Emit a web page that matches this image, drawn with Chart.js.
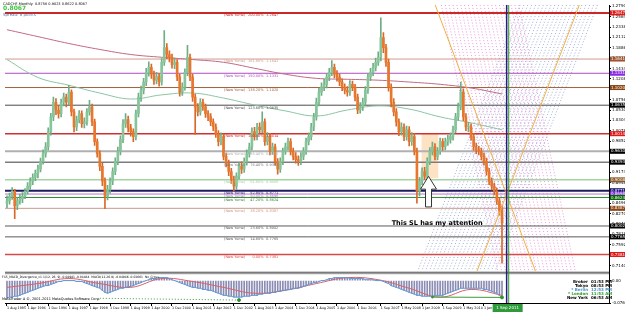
<!DOCTYPE html>
<html>
<head>
<meta charset="utf-8">
<script src="https://cdn.jsdelivr.net/npm/chart.js@4.4.1/dist/chart.umd.min.js"></script>
<style>
html, body { margin: 0; padding: 0; background: #fff; }
canvas { display: block; }
</style>
</head>
<body>
<canvas id="myChart" width="625" height="315"></canvas>
<script>
// CADCHF monthly, one candle per month starting Aug 1995 (index 0)
const opens = [0.850,0.855,0.865,0.876,0.844,0.855,0.859,0.865,0.876,0.887,
0.898,0.906,0.915,0.924,0.941,0.958,0.973,1.006,1.038,1.070,
1.053,1.045,1.070,1.081,1.070,1.092,1.049,1.016,1.032,1.045,
1.023,1.027,1.049,1.060,1.027,0.984,0.958,0.930,0.898,0.865,
0.880,0.898,0.919,0.941,0.963,0.989,1.023,1.032,1.014,1.006,
0.995,1.045,1.081,1.096,1.114,1.135,1.146,1.131,1.118,1.126,
1.114,1.157,1.189,1.174,1.168,1.152,1.157,1.125,1.092,1.103,
1.135,1.168,1.125,1.081,1.060,1.049,1.070,1.060,1.045,1.038,
1.027,1.016,1.001,0.984,0.995,0.952,0.937,0.919,0.902,0.887,
0.909,0.930,0.924,0.941,0.958,0.973,1.006,0.995,1.016,1.010,
1.027,0.984,0.995,0.963,0.973,0.941,0.924,0.941,0.963,0.973,
0.984,0.963,0.952,0.945,0.941,0.952,0.963,0.984,0.995,1.016,
1.038,1.070,1.092,1.103,1.109,1.125,1.135,1.146,1.131,1.125,
1.114,1.103,1.096,1.092,1.109,1.103,1.081,1.053,1.060,1.070,
1.096,1.125,1.135,1.146,1.157,1.168,1.211,1.189,1.157,1.103,
1.070,1.049,1.027,1.006,1.016,0.995,1.010,0.984,0.995,0.963,
0.876,0.898,0.919,0.909,0.941,0.963,0.973,0.952,0.963,0.984,
0.973,0.984,0.989,0.995,1.010,1.038,1.060,1.092,1.038,1.016,
1.016,0.995,0.973,0.966,0.963,0.952,0.941,0.919,0.898,0.887,
0.876,0.855,0.833];
const highs = [0.866,0.872,0.884,0.880,0.862,0.870,0.873,0.882,0.895,0.905,
0.914,0.922,0.933,0.948,0.966,0.982,1.014,1.046,1.081,1.078,
1.062,1.077,1.090,1.088,1.107,1.097,1.055,1.040,1.052,1.051,
1.036,1.056,1.074,1.066,1.033,0.990,0.964,0.937,0.905,0.889,
0.905,0.927,0.949,0.972,0.997,1.032,1.045,1.040,1.022,1.012,
1.053,1.090,1.105,1.122,1.144,1.158,1.153,1.138,1.135,1.133,
1.165,1.226,1.198,1.182,1.175,1.166,1.163,1.131,1.112,1.143,
1.194,1.175,1.131,1.088,1.067,1.078,1.077,1.066,1.052,1.045,
1.034,1.023,1.008,1.003,1.001,0.959,0.944,0.926,0.909,0.916,
0.938,0.940,0.949,0.966,0.981,1.014,1.015,1.024,1.025,1.049,
1.034,1.004,1.002,0.981,0.979,0.947,0.949,0.970,0.981,0.992,
0.991,0.970,0.960,0.953,0.960,0.971,0.992,1.003,1.024,1.046,
1.079,1.101,1.112,1.120,1.133,1.144,1.161,1.153,1.139,1.132,
1.121,1.110,1.104,1.117,1.116,1.109,1.088,1.069,1.079,1.104,
1.133,1.144,1.155,1.166,1.180,1.254,1.222,1.196,1.164,1.110,
1.078,1.056,1.034,1.025,1.023,1.018,1.017,1.004,1.002,0.970,
0.906,0.927,0.928,0.949,0.971,0.983,0.980,0.971,0.992,0.991,
0.992,0.998,1.003,1.018,1.046,1.068,1.114,1.099,1.045,1.026,
1.023,1.002,0.981,0.974,0.970,0.959,0.948,0.926,0.905,0.894,
0.883,0.862,0.844];
const lows = [0.840,0.848,0.858,0.816,0.836,0.848,0.851,0.860,0.870,0.880,
0.890,0.899,0.905,0.918,0.935,0.950,0.966,0.998,1.030,1.043,
1.035,1.038,1.062,1.060,1.064,1.040,1.005,1.008,1.025,1.015,
1.014,1.020,1.042,1.019,0.976,0.950,0.921,0.888,0.838,0.857,
0.872,0.890,0.912,0.934,0.955,0.982,1.015,1.005,0.996,0.984,
0.988,1.038,1.072,1.088,1.106,1.127,1.122,1.109,1.110,1.105,
1.107,1.150,1.165,1.158,1.144,1.143,1.117,1.083,1.085,1.096,
1.128,1.117,1.072,1.000,1.040,1.042,1.052,1.037,1.030,1.019,
1.008,0.993,0.975,0.977,0.944,0.929,0.910,0.893,0.876,0.880,
0.902,0.915,0.917,0.933,0.950,0.966,0.987,0.988,1.002,1.003,
0.976,0.977,0.955,0.956,0.933,0.913,0.917,0.934,0.956,0.966,
0.955,0.944,0.937,0.932,0.934,0.945,0.956,0.977,0.988,1.008,
1.031,1.062,1.085,1.095,1.101,1.117,1.128,1.123,1.116,1.106,
1.095,1.088,1.083,1.085,1.095,1.073,1.045,1.046,1.052,1.063,
1.089,1.117,1.128,1.138,1.150,1.160,1.178,1.148,1.094,1.060,
1.040,1.018,0.997,0.998,0.986,0.987,0.975,0.976,0.955,0.850,
0.866,0.890,0.901,0.902,0.934,0.955,0.944,0.945,0.956,0.965,
0.966,0.976,0.981,0.987,1.003,1.031,1.053,1.030,1.008,1.006,
0.987,0.965,0.958,0.955,0.944,0.933,0.911,0.890,0.879,0.868,
0.847,0.824,0.719];
const closes = [0.855,0.865,0.876,0.844,0.855,0.859,0.865,0.876,0.887,0.898,
0.906,0.915,0.924,0.941,0.958,0.973,1.006,1.038,1.070,1.053,
1.045,1.070,1.081,1.070,1.092,1.049,1.016,1.032,1.045,1.023,
1.027,1.049,1.060,1.027,0.984,0.958,0.930,0.898,0.865,0.880,
0.898,0.919,0.941,0.963,0.989,1.023,1.032,1.014,1.006,0.995,
1.045,1.081,1.096,1.114,1.135,1.146,1.131,1.118,1.126,1.114,
1.157,1.189,1.174,1.168,1.152,1.157,1.125,1.092,1.103,1.135,
1.168,1.125,1.081,1.060,1.049,1.070,1.060,1.045,1.038,1.027,
1.016,1.001,0.984,0.995,0.952,0.937,0.919,0.902,0.887,0.909,
0.930,0.924,0.941,0.958,0.973,1.006,0.995,1.016,1.010,1.027,
0.984,0.995,0.963,0.973,0.941,0.924,0.941,0.963,0.973,0.984,
0.963,0.952,0.945,0.941,0.952,0.963,0.984,0.995,1.016,1.038,
1.070,1.092,1.103,1.109,1.125,1.135,1.146,1.131,1.125,1.114,
1.103,1.096,1.092,1.109,1.103,1.081,1.053,1.060,1.070,1.096,
1.125,1.135,1.146,1.157,1.168,1.211,1.189,1.157,1.103,1.070,
1.049,1.027,1.006,1.016,0.995,1.010,0.984,0.995,0.963,0.876,
0.898,0.919,0.909,0.941,0.963,0.973,0.952,0.963,0.984,0.973,
0.984,0.989,0.995,1.010,1.038,1.060,1.092,1.038,1.016,1.016,
0.995,0.973,0.966,0.963,0.952,0.941,0.919,0.898,0.887,0.876,
0.855,0.833,0.807];

// moving averages, read every 12 months
const maIdx = [0,12,24,36,48,60,72,84,96,108,120,132,144,156,168,180,192];
const maSlow = [1.228,1.213,1.198,1.185,1.174,1.168,1.163,1.157,1.144,1.131,1.122,1.120,1.118,1.114,1.109,1.101,1.088];
const maFast = [1.163,1.124,1.107,1.090,1.077,1.086,1.090,1.079,1.064,1.051,1.040,1.053,1.062,1.055,1.038,1.025,1.010];

// MACD sub window
const macdMain = [-0.059,-0.056,-0.056,-0.053,-0.053,-0.050,-0.046,-0.043,
-0.040,-0.036,-0.033,-0.030,-0.026,-0.023,-0.020,-0.017,-0.017,
-0.013,-0.010,-0.007,-0.003,-0.003,0,
0,0,0,0,-0.003,-0.003,-0.003,
-0.007,-0.010,-0.013,-0.017,-0.020,-0.023,-0.026,-0.033,-0.040,-0.043,
-0.040,-0.036,-0.033,-0.030,-0.026,-0.026,-0.023,-0.020,-0.020,-0.017,
-0.013,-0.010,-0.007,-0.003,0,0.003,0.007,0.007,0.007,0.010,
0.010,0.010,0.010,0.007,0.003,0,-0.003,-0.007,-0.010,-0.013,
-0.017,-0.020,-0.023,-0.023,-0.026,-0.026,-0.030,-0.030,-0.033,-0.033,
-0.036,-0.040,-0.043,-0.046,-0.050,-0.050,-0.053,-0.053,-0.056,-0.056,
-0.056,-0.056,-0.053,-0.053,-0.053,-0.050,-0.050,-0.050,-0.046,-0.046,
-0.043,-0.043,-0.043,-0.040,-0.040,-0.036,-0.036,-0.033,-0.033,-0.030,
-0.030,-0.026,-0.026,-0.026,-0.023,-0.020,-0.017,-0.013,-0.010,-0.007,
-0.007,-0.003,0,0,0.003,0.007,0.007,0.010,0.010,0.010,
0.010,0.010,0.010,0.007,0.007,0.007,0.007,0.007,0.007,0.003,
0.003,0.003,0.003,0,0,0,-0.003,-0.007,-0.010,-0.017,
-0.020,-0.023,-0.026,-0.030,-0.033,-0.036,-0.040,-0.043,-0.046,-0.050,
-0.050,-0.053,-0.053,-0.053,-0.053,-0.053,-0.050,-0.050,-0.050,-0.050,
-0.046,-0.043,-0.040,-0.036,-0.033,-0.030,-0.026,-0.026,-0.026,-0.026,
-0.026,-0.026,-0.026,-0.026,-0.026,-0.030,-0.030,-0.033,-0.036,-0.040,
-0.043,-0.050,-0.059];
const macdSignal = [-0.023,-0.010,0.007,-0.010,-0.023,0.007,-0.003,-0.023,-0.043,-0.033,-0.010,0.010,0.003,-0.026,-0.056,-0.030,-0.050];

// axis labels
const priceTicks = [1.2790,1.2564,1.2338,1.2112,1.1886,1.1660,1.1434,1.1208,1.0982,1.0756,1.0530,1.0304,1.0078,
0.9852,0.9626,0.9400,0.9174,0.8948,0.8722,0.8496,0.8270,0.8044,0.7818,0.7592,0.7366,0.7140];
const timeLabels = ['1 Aug 1995','1 Apr 1996','1 Dec 1996','1 Aug 1997','1 Apr 1998','1 Dec 1998','1 Aug 1999','1 Apr 2000',
'1 Dec 2000','1 Aug 2001','1 Apr 2002','1 Dec 2002','1 Aug 2003','1 Apr 2004','1 Dec 2004','1 Aug 2005','1 Apr 2006',
'1 Dec 2006','1 Sep 2007','1 May 2008','1 Jan 2009','1 Sep 2009','1 May 2010','1 Jan 2011'];
const timeLabelIdx = [0,8,16,24,32,40,48,56,64,72,80,88,96,104,112,120,128,136,145,153,161,169,177,185];

// fibonacci levels
const fibPct = ['200.00%','161.80%','150.00%','138.20%','123.60%','100.00%','85.40%','76.40%','61.80%','52.80%','50.00%','47.20%','38.20%','23.60%','14.60%','0.00%'];
const fibPrice = [1.2647,1.1641,1.1331,1.1020,1.0635,1.0014,0.9630,0.9393,0.9008,0.8771,0.8698,0.8624,0.8387,0.8002,0.7765,0.7381];
const fibColor = ['#c82828','#d39a8e','#b04cc0','#a0603c','#4a4a4a','#d03030','#b0b0b0','#7c7c7c','#a4d4a4','#1c1c5c','#c070d8','#2a8a2a','#c89a88','#5a5a5a','#5a5a5a','#d84848'];
const fibWidth = [2,1,1,1,1,1.5,2,1.5,1.5,2,1,1,1,1,1,1.5];
const fibTag = ['#e01818','#a0522d','#8a2be2','#8b4513','#000000','#e01818','#000000','#000000','#8b5a2b','#191970','#8a2be2','#006400','#8b4513','#000000','#000000','#e01818'];

// drawn objects
const trendA = [{x:166.1,y:1.2819},{x:205.0,y:0.7014}];
const trendB = [{x:222.0,y:1.2819},{x:182.3,y:0.7014}];
const pinkBase = [{x:168.5,y:1.2819},{x:190.4,y:0.7014}];
const pinkShift = [0,1.5,3,4.5,6,7.5,9,10.5,12,13.5,15,16.5,18,19.5,21,22.5,24,25.5,27,28.5,30];
const blueShift = [-23,-21.5,-20,-18.5,-17,-15.5,-14,-12.5,-11,-9.5,-8,-6.5,-5,-3.5,-2,-0.5,1,2.5,4,5.5,7];
const divergence1 = [{x:36,y:-0.060},{x:90,y:-0.066}];
const divergence2 = [{x:165,y:-0.056},{x:192,y:-0.057}];
const vLineNavy = 193.8, vLineGreen = 194.6;

const FONT = '"DejaVu Sans", sans-serif';
const bull = '#86c49a', bear = '#e8772e';

let datasets = [];

datasets.push({
	type: 'line', data: trendA, borderColor: '#f0b040', borderWidth: 1, pointRadius: 0, order: 1
});
datasets.push({
	type: 'line', data: trendB, borderColor: '#f0b040', borderWidth: 1, pointRadius: 0, order: 1
});

datasets.push({
	type: 'bar', grouped: false, barThickness: 1, order: 3, yAxisID: 'y',
	data: closes.map((c, i) => ({x: i, y: [lows[i], highs[i]]})),
	backgroundColor: closes.map((c, i) => c >= opens[i] ? '#6fae84' : '#d8682a')
});
datasets.push({
	type: 'bar', grouped: false, barThickness: 2, minBarLength: 1, order: 2, yAxisID: 'y',
	data: closes.map((c, i) => ({x: i, y: [opens[i], c]})),
	backgroundColor: closes.map((c, i) => c >= opens[i] ? bull : bear)
});

datasets.push({
	type: 'line', data: maIdx.map((x, k) => ({x: x, y: maSlow[k]})), borderColor: '#c06a82',
	borderWidth: 1, pointRadius: 0, tension: 0.4, order: 5
});
datasets.push({
	type: 'line', data: maIdx.map((x, k) => ({x: x, y: maFast[k]})), borderColor: '#8cc4a4',
	borderWidth: 1, pointRadius: 0, tension: 0.4, order: 5
});

for (let k = 0; k < fibPrice.length; k++) {
	datasets.push({
		type: 'line', data: [{x: -1, y: fibPrice[k]}, {x: 240, y: fibPrice[k]}],
		borderColor: fibColor[k], borderWidth: fibWidth[k], pointRadius: 0, order: 8
	});
}

pinkShift.forEach(s => {
	datasets.push({
		type: 'line', data: pinkBase.map(p => ({x: p.x + s, y: p.y})),
		borderColor: 'rgba(225,120,205,0.75)', borderWidth: 1, borderDash: [1, 2], pointRadius: 0, order: 10
	});
});
blueShift.forEach(s => {
	datasets.push({
		type: 'line', data: trendB.map(p => ({x: p.x + s, y: p.y})),
		borderColor: 'rgba(120,140,200,0.7)', borderWidth: 1, borderDash: [1, 2], pointRadius: 0, order: 10
	});
});

// MACD window
datasets.push({
	type: 'bar', grouped: false, barThickness: 1, yAxisID: 'y2', order: 4,
	data: macdMain.map((v, i) => ({x: i, y: v})), backgroundColor: '#8a8cb4'
});
datasets.push({
	type: 'line', yAxisID: 'y2', data: macdMain.map((v, i) => ({x: i, y: v})),
	borderColor: '#5a9ad8', borderWidth: 1, pointRadius: 0, order: 3
});
datasets.push({
	type: 'line', yAxisID: 'y2', data: maIdx.map((x, k) => ({x: x, y: macdSignal[k]})),
	borderColor: '#d8606a', borderWidth: 1, pointRadius: 0, tension: 0.4, order: 3
});
datasets.push({
	type: 'line', yAxisID: 'y2', data: divergence1, borderColor: '#3a9a3a', borderWidth: 1,
	borderDash: [1, 2], pointRadius: [0, 1.5], pointBackgroundColor: '#2a8a2a', order: 2
});
datasets.push({
	type: 'line', yAxisID: 'y2', data: divergence2, borderColor: '#3a9a3a', borderWidth: 1,
	pointRadius: [1, 1.5], pointBackgroundColor: '#2a8a2a', order: 2
});

function txt(ctx, s, x, y, size, color, align, bold) {
	ctx.font = (bold ? 'bold ' : '') + size + 'px ' + FONT;
	ctx.fillStyle = color;
	ctx.textAlign = align || 'left';
	ctx.textBaseline = 'middle';
	ctx.fillText(s, x, y);
}

const overlay = {
	id: 'overlay',
	beforeDatasetsDraw(chart) {
		const ctx = chart.ctx, X = chart.scales.x, Y = chart.scales.y;
		// highlighted zone
		const x0 = X.getPixelForValue(160.8), x1 = X.getPixelForValue(167.3);
		const y0 = Y.getPixelForValue(1.0014), y1 = Y.getPixelForValue(0.9042);
		ctx.save();
		ctx.fillStyle = '#fde2c4';
		ctx.fillRect(x0, y0, x1 - x0, y1 - y0);
		ctx.restore();
	},
	afterDraw(chart) {
		const ctx = chart.ctx, X = chart.scales.x, Y = chart.scales.y;
		const area = chart.chartArea;
		ctx.save();

		// fib level texts
		for (let k = 0; k < fibPrice.length; k++) {
			const py = Y.getPixelForValue(fibPrice[k]) + 2.5;
			txt(ctx, '(New Yume)', X.getPixelForValue(84.2), py, 3.5, fibColor[k]);
			txt(ctx, fibPct[k], X.getPixelForValue(99.5), py, 3.5, fibColor[k], 'right');
			txt(ctx, fibPrice[k].toFixed(4), X.getPixelForValue(100.5), py, 3.5, fibColor[k]);
		}

		// panel separator
		ctx.fillStyle = '#b8b8b8';
		ctx.fillRect(area.left, Y.bottom, area.right - area.left, 3);
		ctx.fillStyle = '#606060';
		ctx.fillRect(area.left, Y.bottom + 1, area.right - area.left, 1);

		// vertical lines
		[[vLineNavy, '#20207a', 1.5], [vLineGreen, '#2a9a2a', 1]].forEach(v => {
			const px = X.getPixelForValue(v[0]);
			ctx.strokeStyle = v[1];
			ctx.lineWidth = v[2];
			ctx.beginPath();
			ctx.moveTo(px, area.top);
			ctx.lineTo(px, area.bottom);
			ctx.stroke();
		});

		// price tags on the axis
		for (let k = 0; k < fibPrice.length; k++) {
			const py = Y.getPixelForValue(fibPrice[k]);
			ctx.fillStyle = fibTag[k];
			ctx.fillRect(area.right + 1, py - 2.5, 15, 5);
			txt(ctx, fibPrice[k].toFixed(4), area.right + 2, py, 4, '#ffffff');
		}

		// arrow
		const ax = X.getPixelForValue(163.5);
		const tip = Y.getPixelForValue(0.9085), head = Y.getPixelForValue(0.8805), base = Y.getPixelForValue(0.8417);
		ctx.beginPath();
		ctx.moveTo(ax, tip);
		ctx.lineTo(ax + 8, head);
		ctx.lineTo(ax + 3, head);
		ctx.lineTo(ax + 3, base);
		ctx.lineTo(ax - 3, base);
		ctx.lineTo(ax - 3, head);
		ctx.lineTo(ax - 8, head);
		ctx.closePath();
		ctx.fillStyle = '#ffffff';
		ctx.fill();
		ctx.strokeStyle = '#333';
		ctx.lineWidth = 1;
		ctx.stroke();
		txt(ctx, 'This SL has my attention', X.getPixelForValue(149.2), Y.getPixelForValue(0.8071), 6.5, '#000', 'left', true);

		// date tag on time axis
		const vx = X.getPixelForValue(vLineNavy);
		ctx.fillStyle = '#2e9a3a';
		ctx.fillRect(vx - 14, area.bottom + 1, 30, 8);
		txt(ctx, '1 Sep 2011', vx + 1, area.bottom + 5, 4, '#ffffff', 'center');

		// header
		txt(ctx, 'CADCHF,Monthly  0.8756 0.9023 0.8622 0.8067', 3, 4, 3.5, '#000');
		txt(ctx, '0.8067', 3, 8, 6, '#3ec43e', 'left', true);
		txt(ctx, 'Spread: 6 points', 3, 14.5, 4, '#5577aa');

		// indicator caption
		txt(ctx, 'FX5_MACD_Divergence_v1.1(12, 26, 9) -0.04981 -0.04484  MACD(12,26,9) -0.04946 -0.03661  No_Cross',
			2, Y.bottom + 6, 3, '#000');
		txt(ctx, 'MetaTrader 4 \u00a9, 2001-2011 MetaQuotes Software Corp.', 2, area.bottom - 4, 3.5, '#000');

		// clocks
		const zones = [['Broker', '01:53 PM', '#000'], ['Tokyo', '08:53 PM', '#000'], ['* Berlin', '12:53 PM', '#4a90c8'],
			['* London', '11:53 AM', '#30a030'], ['New York', '06:53 AM', '#000']];
		zones.forEach((z, k) => {
			const py = Y.bottom + 11 + k * 4;
			txt(ctx, z[0], 588, py, 4, z[2], 'right', true);
			txt(ctx, z[1], 591, py, 4, z[2], 'left', true);
		});
		ctx.restore();
	}
};

const ctx = document.getElementById('myChart').getContext('2d');
const myChart = new Chart(ctx, {
	type: 'bar',
	data: { datasets: datasets },
	plugins: [overlay],
	options: {
		responsive: false,
		animation: false,
		layout: { padding: { top: 2, left: 0, right: 0, bottom: 0 } },
		plugins: { legend: { display: false }, tooltip: { enabled: false } },
		scales: {
			x: {
				type: 'linear', min: -0.77, max: 233.5, position: 'bottom', offset: false,
				grid: { drawOnChartArea: false, tickLength: 3, color: '#000', offset: false },
				border: { display: true, color: '#000' },
				afterBuildTicks: (s) => { s.ticks = timeLabelIdx.map(v => ({value: v})); },
				afterFit: (s) => { s.height = 12; s.paddingLeft = 0; s.paddingRight = 0; },
				ticks: {
					autoSkip: false, maxRotation: 0, align: 'start', padding: 0,
					color: '#000', font: { size: 3.3, family: FONT },
					callback: (v) => { const k = timeLabelIdx.indexOf(v); return k >= 0 ? timeLabels[k] : ''; }
				}
			},
			y: {
				type: 'linear', position: 'right', stack: 'v', stackWeight: 269,
				min: 0.7014, max: 1.2819,
				grid: { drawOnChartArea: false, tickLength: 2, color: '#000' },
				border: { display: true, color: '#000' },
				afterBuildTicks: (s) => { s.ticks = priceTicks.map(v => ({value: v})); },
				afterFit: (s) => { s.width = 16; s.paddingTop = 0; s.paddingBottom = 0; },
				ticks: {
					autoSkip: false, padding: 1, color: '#000', font: { size: 4, family: FONT },
					callback: (v) => v.toFixed(4)
				}
			},
			y2: {
				type: 'linear', position: 'right', stack: 'v', stackWeight: 32,
				min: -0.076, max: 0.0315,
				grid: { drawOnChartArea: false, tickLength: 2, color: '#000' },
				border: { display: true, color: '#000' },
				afterBuildTicks: (s) => { s.ticks = [{value: 0}, {value: -0.076}]; },
				afterFit: (s) => { s.width = 16; s.paddingTop = 0; s.paddingBottom = 0; },
				ticks: {
					autoSkip: false, padding: 1, color: '#000', font: { size: 4, family: FONT },
					callback: (v) => v === 0 ? '0.00' : '-0.0760'
				}
			}
		}
	}
});
</script>
</body>
</html>
